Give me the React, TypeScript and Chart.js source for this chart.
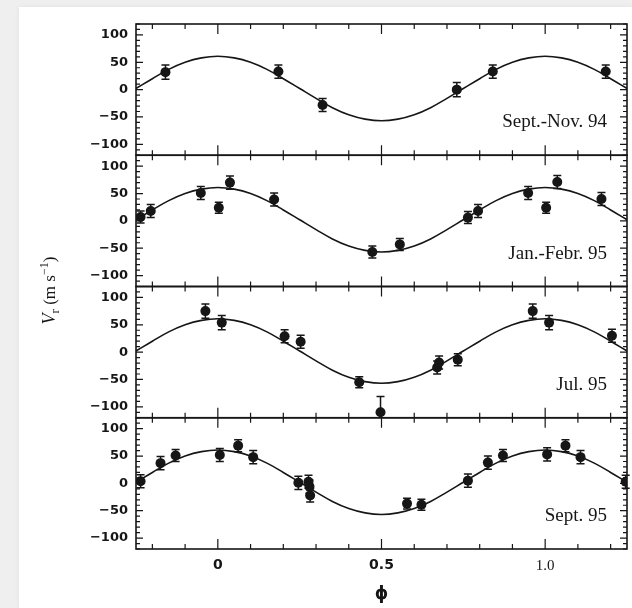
import { useEffect, useRef } from 'react';
import { Chart, registerables } from 'chart.js';

Chart.register(...registerables);

// Fitted radial-velocity curve
const CURVE_PHASE = [-0.25, -0.2, -0.15, -0.1, -0.05, 0, 0.05, 0.1, 0.15, 0.2, 0.25, 0.3, 0.35, 0.4, 0.45, 0.5, 0.55, 0.6, 0.65, 0.7, 0.75, 0.8, 0.85, 0.9, 0.95, 1.0, 1.05, 1.1, 1.15, 1.2, 1.25];
const CURVE_V = [2, 20, 37, 50, 58, 61, 58, 50, 37, 20, 2, -16, -33, -46, -54, -57, -54, -46, -33, -16, 2, 20, 37, 50, 58, 61, 58, 50, 37, 20, 2];

// Sept.-Nov. 94
const SN94_PHASE = [-0.16, 0.185, 0.32, 0.73, 0.84, 1.185];
const SN94_V = [32, 33, -28, 0, 33, 33];
const SN94_ERR = [13, 12, 12, 13, 12, 12];

// Jan.-Febr. 95
const JF95_PHASE = [-0.236, -0.205, -0.052, 0.003, 0.037, 0.172, 0.472, 0.556, 0.764, 0.795, 0.948, 1.003, 1.037, 1.172];
const JF95_V = [7, 18, 51, 24, 70, 39, -57, -43, 6, 18, 51, 24, 71, 40];
const JF95_ERR = [11, 12, 12, 10, 12, 12, 11, 11, 11, 12, 12, 10, 12, 12];

// Jul. 95
const JUL95_PHASE = [-0.038, 0.012, 0.204, 0.253, 0.432, 0.497, 0.67, 0.676, 0.733, 0.962, 1.012, 1.204];
const JUL95_V = [75, 54, 29, 19, -55, -110, -28, -19, -14, 75, 54, 30];
const JUL95_ERR = [13, 13, 12, 12, 10, 29, 12, 12, 11, 13, 13, 12];

// Sept. 95
const SEP95_PHASE = [-0.236, -0.175, -0.129, 0.006, 0.062, 0.108, 0.246, 0.277, 0.28, 0.282, 0.578, 0.622, 0.764, 0.825, 0.871, 1.006, 1.062, 1.108, 1.246];
const SEP95_V = [4, 37, 51, 52, 69, 48, 1, 3, -6, -22, -37, -39, 5, 38, 51, 53, 69, 48, 3];
const SEP95_ERR = [12, 12, 11, 12, 11, 12, 12, 12, 12, 12, 10, 10, 12, 12, 11, 12, 11, 12, 12];

const PANEL_LABELS = ['Sept.-Nov. 94', 'Jan.-Febr. 95', 'Jul. 95', 'Sept. 95'];
const Y_TICK_VALUES = [-100, -50, 0, 50, 100];
const X_TICK_VALUES = [0, 0.5, 1.0];
const X_TICK_LABELS = ['0', '0.5', '1.0'];
const X_TITLE = '\u03D5';

const PANELS = [
  { phase: SN94_PHASE, v: SN94_V, err: SN94_ERR },
  { phase: JF95_PHASE, v: JF95_V, err: JF95_ERR },
  { phase: JUL95_PHASE, v: JUL95_V, err: JUL95_ERR },
  { phase: SEP95_PHASE, v: SEP95_V, err: SEP95_ERR },
];

const INK = '#161616';
const AXIS_IDS = ['y0', 'y1', 'y2', 'y3'];

const fmtY = (v: number) => (v < 0 ? '\u2212' + Math.abs(v) : String(v));

const errorBarPlugin = {
  id: 'errorBars',
  beforeDatasetsDraw(chart: any) {
    const ctx = chart.ctx;
    const xs = chart.scales.x;
    ctx.save();
    ctx.strokeStyle = INK;
    ctx.lineWidth = 1.5;
    chart.data.datasets.forEach((ds: any) => {
      if (!ds.errors) return;
      const ys = chart.scales[ds.yAxisID];
      ds.data.forEach((pt: any, i: number) => {
        const e = ds.errors[i];
        const px = xs.getPixelForValue(pt.x);
        let yTop = ys.getPixelForValue(pt.y + e);
        let yBot = ys.getPixelForValue(pt.y - e);
        const capTop = yTop >= ys.top;
        const capBot = yBot <= ys.bottom;
        yTop = Math.max(yTop, ys.top);
        yBot = Math.min(yBot, ys.bottom);
        ctx.beginPath();
        ctx.moveTo(px, yTop);
        ctx.lineTo(px, yBot);
        if (capTop) { ctx.moveTo(px - 4, yTop); ctx.lineTo(px + 4, yTop); }
        if (capBot) { ctx.moveTo(px - 4, yBot); ctx.lineTo(px + 4, yBot); }
        ctx.stroke();
      });
    });
    ctx.restore();
  },
};

const framePlugin = {
  id: 'frames',
  afterDraw(chart: any) {
    const ctx = chart.ctx;
    const xs = chart.scales.x;
    const { left, right } = chart.chartArea;
    ctx.save();
    ctx.strokeStyle = INK;
    ctx.fillStyle = INK;
    AXIS_IDS.forEach((id, k) => {
      const ys = chart.scales[id];
      const top = ys.top;
      const bottom = ys.bottom;
      ctx.lineWidth = 1.6;
      ctx.strokeRect(left, top, right - left, bottom - top);
      ctx.lineWidth = 1.2;
      ctx.beginPath();
      for (let v = -120; v <= 120; v += 10) {
        const py = ys.getPixelForValue(v);
        const len = v % 50 === 0 ? 7 : 4;
        ctx.moveTo(left, py); ctx.lineTo(left + len, py);
        ctx.moveTo(right, py); ctx.lineTo(right - len, py);
      }
      for (let i = -2; i <= 12; i++) {
        const px = xs.getPixelForValue(i / 10);
        const len = i % 5 === 0 ? 10 : 5;
        ctx.moveTo(px, top); ctx.lineTo(px, top + len);
        ctx.moveTo(px, bottom); ctx.lineTo(px, bottom - len);
      }
      ctx.stroke();
      ctx.font = '19px "Liberation Serif"';
      ctx.textAlign = 'right';
      ctx.textBaseline = 'alphabetic';
      ctx.fillText(PANEL_LABELS[k], right - 20, ys.getPixelForValue(-69));
    });

    // x title
    ctx.font = 'bold 17px "DejaVu Sans"';
    ctx.textAlign = 'center';
    ctx.textBaseline = 'middle';
    ctx.fillText(X_TITLE, xs.getPixelForValue(0.5), 595);

    // y title: V_r (m s^-1)
    const cy = (chart.chartArea.top + chart.chartArea.bottom) / 2 + 4;
    ctx.translate(55, cy);
    ctx.rotate(-Math.PI / 2);
    const parts = [
      { t: 'V', f: 'italic 18px "Liberation Serif"', dy: 0 },
      { t: 'r', f: '13px "Liberation Serif"', dy: 4 },
      { t: ' (m s', f: '17px "Liberation Serif"', dy: 0 },
      { t: '\u22121', f: '12px "Liberation Serif"', dy: -7 },
      { t: ')', f: '17px "Liberation Serif"', dy: 0 },
    ];
    let total = 0;
    parts.forEach((p) => { ctx.font = p.f; total += ctx.measureText(p.t).width; });
    let x = -total / 2;
    ctx.textAlign = 'left';
    ctx.textBaseline = 'alphabetic';
    parts.forEach((p) => {
      ctx.font = p.f;
      ctx.fillText(p.t, x, p.dy);
      x += ctx.measureText(p.t).width;
    });
    ctx.restore();
  },
};

export default function App() {
  const ref = useRef<HTMLCanvasElement>(null);

  useEffect(() => {
    const canvas = ref.current;
    if (!canvas) return;
    Chart.defaults.font.family = '"DejaVu Sans"';

    const datasets: any[] = [];
    PANELS.forEach((p, k) => {
      datasets.push({
        type: 'line',
        data: CURVE_PHASE.map((x, i) => ({ x, y: CURVE_V[i] })),
        xAxisID: 'x',
        yAxisID: AXIS_IDS[k],
        borderColor: INK,
        borderWidth: 1.6,
        pointRadius: 0,
        tension: 0.4,
        fill: false,
        showLine: true,
        order: 2,
      });
      datasets.push({
        type: 'scatter',
        data: p.phase.map((x, i) => ({ x, y: p.v[i] })),
        errors: p.err,
        xAxisID: 'x',
        yAxisID: AXIS_IDS[k],
        backgroundColor: INK,
        borderColor: INK,
        borderWidth: 0,
        pointRadius: 5,
        order: 1,
      });
    });

    const scales: any = {
      x: {
        type: 'linear',
        position: 'bottom',
        min: -0.25,
        max: 1.25,
        grid: { display: false, drawTicks: false },
        border: { display: false },
        afterBuildTicks: (s: any) => { s.ticks = X_TICK_VALUES.map((v) => ({ value: v })); },
        afterFit: (s: any) => { s.height = 59; },
        ticks: {
          padding: 8,
          color: INK,
          autoSkip: false,
          maxRotation: 0,
          font: (c: any) => (c.index === 2
            ? { family: '"Liberation Serif"', size: 15 }
            : { family: '"DejaVu Sans"', size: 14, weight: 'bold' }),
          callback: (_v: any, i: number) => X_TICK_LABELS[i],
        },
      },
    };
    AXIS_IDS.forEach((id, k) => {
      scales[id] = {
        type: 'linear',
        position: 'left',
        stack: 'panels',
        stackWeight: 1,
        weight: 4 - k,
        min: -120,
        max: 120,
        grid: { display: false, drawTicks: false },
        border: { display: false },
        afterBuildTicks: (s: any) => { s.ticks = Y_TICK_VALUES.map((v) => ({ value: v })); },
        afterFit: (s: any) => { s.width = 136; },
        ticks: {
          padding: 8,
          color: INK,
          autoSkip: false,
          font: { family: '"DejaVu Sans"', size: 13, weight: 'bold' },
          callback: (v: any) => fmtY(Number(v)),
        },
      };
    });

    const chart = new Chart(canvas, {
      type: 'scatter',
      data: { datasets },
      options: {
        responsive: false,
        maintainAspectRatio: false,
        animation: false,
        devicePixelRatio: 1,
        layout: { padding: { top: 24, right: 5, bottom: 0, left: 0 } },
        plugins: { legend: { display: false }, tooltip: { enabled: false } },
        scales,
      } as any,
      plugins: [errorBarPlugin, framePlugin],
    });
    return () => chart.destroy();
  }, []);

  return (
    <div style={{ position: 'absolute', left: 0, top: 0, width: 632, height: 608, background: '#efefef', overflow: 'hidden' }}>
      <div style={{ position: 'absolute', left: 19, top: 7, width: 613, height: 601, background: '#ffffff', boxShadow: '0 0 5px rgba(0,0,0,0.06)' }} />
      <canvas ref={ref} width={632} height={608} style={{ position: 'absolute', left: 0, top: 0, width: 632, height: 608 }} />
    </div>
  );
}
